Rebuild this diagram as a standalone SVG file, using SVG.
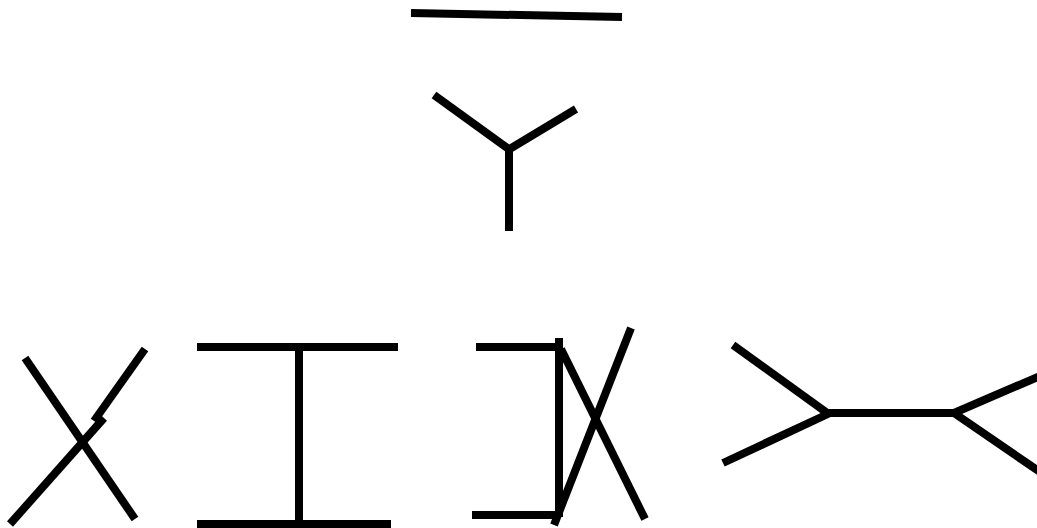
<svg xmlns="http://www.w3.org/2000/svg" width="1037" height="528" viewBox="0 0 1037 528">
<style>
line{stroke:#000;stroke-width:8;stroke-linecap:butt}
</style>
<rect width="1037" height="528" fill="#fff"/>
<g id="connectors">
<g id="top-line"><line x1="411" y1="13" x2="622" y2="17"/></g>
<g id="vertex-y">
<line x1="434" y1="95" x2="510" y2="150"/>
<line x1="576" y1="109" x2="508" y2="150"/>
<line x1="509" y1="148" x2="509" y2="231"/>
</g>
<g id="cross">
<line x1="25" y1="358" x2="135" y2="519"/>
<line x1="145" y1="349" x2="94" y2="421"/>
<line x1="104" y1="418" x2="10" y2="524"/>
</g>
<g id="h-shape">
<line x1="197" y1="347" x2="398" y2="347"/>
<line x1="197" y1="524" x2="391" y2="524"/>
<line x1="299" y1="344" x2="299" y2="520"/>
</g>
<g id="box-cross">
<line x1="476" y1="347" x2="560" y2="347"/>
<line x1="472" y1="515" x2="560" y2="515"/>
<line x1="559" y1="338" x2="559" y2="517"/>
<line x1="561" y1="349" x2="645" y2="519"/>
<line x1="631" y1="328" x2="554" y2="525"/>
</g>
<g id="exchange">
<line x1="733" y1="345" x2="830" y2="415"/>
<line x1="723" y1="463" x2="830" y2="413"/>
<line x1="828" y1="413" x2="956" y2="413"/>
<line x1="954" y1="413" x2="1040" y2="376"/>
<line x1="954" y1="413" x2="1040" y2="472"/>
</g>
</g>
</svg>
